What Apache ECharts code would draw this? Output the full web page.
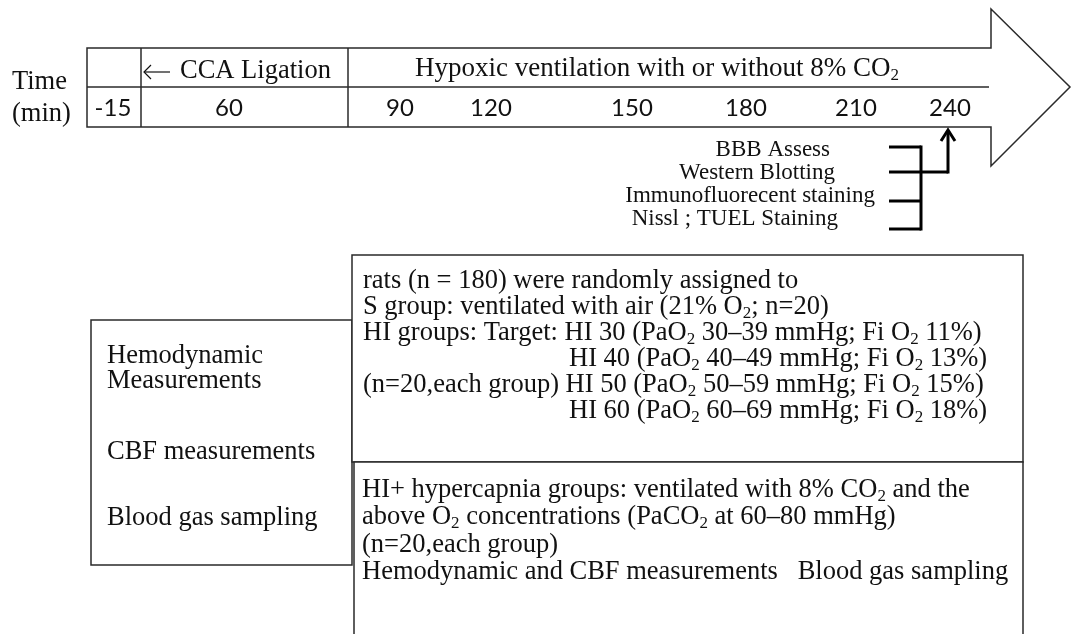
<!DOCTYPE html>
<html>
<head>
<meta charset="utf-8">
<script src="https://cdn.jsdelivr.net/npm/echarts@6/dist/echarts.min.js"></script>
<style>
  html, body { margin: 0; background: #fff; }
  #main { width: 1073px; height: 634px; }
</style>
</head>
<body>
<div id="main"></div>
<script>
// timeline content
var timeTicks = ['-15', '60', '90', '120', '150', '180', '210', '240'];
var phaseLabels = ['CCA Ligation', 'Hypoxic ventilation with or without 8% CO{s|2}'];
var axisTitle = ['Time', '(min)'];
var assays = ['BBB Assess', 'Western Blotting', 'Immunofluorecent staining', 'Nissl ; TUEL Staining'];

// boxes
var measureItems = ['Hemodynamic', 'Measurements', 'CBF measurements', 'Blood gas sampling'];
var introLines = [
  'rats (n = 180) were randomly assigned to',
  'S group: ventilated with air (21% O{s|2}; n=20)'
];
var hiPrefix = ['HI groups: Target:', '', '(n=20,each group)', ''];
var hiGroups = [
  'HI 30 (PaO{s|2} 30–39 mmHg; Fi O{s|2} 11%)',
  'HI 40 (PaO{s|2} 40–49 mmHg; Fi O{s|2} 13%)',
  'HI 50 (PaO{s|2} 50–59 mmHg; Fi O{s|2} 15%)',
  'HI 60 (PaO{s|2} 60–69 mmHg; Fi O{s|2} 18%)'
];
var hyperLines = [
  'HI+ hypercapnia groups: ventilated with 8% CO{s|2} and the',
  'above O{s|2} concentrations (PaCO{s|2} at 60–80 mmHg)',
  '(n=20,each group)',
  'Hemodynamic and CBF measurements   Blood gas sampling'
];

// layout
var tickPos = [113, 229, 400, 491, 632, 746, 856, 950];
var serif = '"Liberation Serif", "Times New Roman", serif';
var sans = 'Lato, "Open Sans", sans-serif';
var ink = '#111';
var edge = '#2a2a2a';

var rich = {
  s: { fontSize: 17, fontFamily: serif, padding: [13, 0, 0, 0], fill: ink }
};

function txt(str, x, y, opt) {
  opt = opt || {};
  return {
    type: 'text', x: x, y: y, silent: true,
    style: {
      text: str, fill: ink,
      font: (opt.size || 26.5) + 'px ' + (opt.family || serif),
      align: opt.align || 'left', verticalAlign: 'middle',
      rich: rich
    }
  };
}
function line(x1, y1, x2, y2, w, c) {
  return {
    type: 'line', silent: true,
    shape: { x1: x1, y1: y1, x2: x2, y2: y2 },
    style: { stroke: c || edge, lineWidth: w || 1.5 }
  };
}
function poly(pts, w, c) {
  return {
    type: 'polyline', silent: true,
    shape: { points: pts },
    style: { stroke: c || edge, lineWidth: w || 1.5, fill: null }
  };
}
function box(x, y, w, h) {
  return {
    type: 'rect', silent: true,
    shape: { x: x, y: y, width: w, height: h },
    style: { fill: '#fff', stroke: edge, lineWidth: 1.5 }
  };
}

var g = [];

// big arrow
g.push({
  type: 'polygon', silent: true,
  shape: { points: [[87, 48], [991, 48], [991, 9], [1070, 87], [991, 166], [991, 127], [87, 127]] },
  style: { fill: '#fff', stroke: edge, lineWidth: 1.5 }
});
g.push(line(87, 87, 989, 87));
g.push(line(141, 48, 141, 127));
g.push(line(348, 48, 348, 127));

g.push(txt(axisTitle[0], 12, 82));
g.push(txt(axisTitle[1], 12, 114));

timeTicks.forEach(function (t, i) {
  g.push(txt(t, tickPos[i], 108, { size: 24, family: sans, align: 'center' }));
});
// ligation arrow
g.push(line(144, 72, 170, 72, 1.2, ink));
g.push(poly([[151, 65], [144, 72], [151, 79]], 1.2, ink));
g.push(txt(phaseLabels[0], 180, 71));
g.push(txt(phaseLabels[1], 415, 69, { size: 27 }));

// assays with bracket
var assayRight = [830, 835, 875, 838];
var assayY = [150, 173, 196, 219];
assays.forEach(function (a, i) {
  g.push(txt(a, assayRight[i], assayY[i], { size: 23, align: 'right' }));
});
[147, 172, 201, 229].forEach(function (y) { g.push(line(889, y, 921, y, 3, '#000')); });
g.push(line(921, 145.5, 921, 230.5, 3, '#000'));
g.push(line(921, 172, 948, 172, 3, '#000'));
g.push(line(948, 173.5, 948, 132, 3, '#000'));
g.push(poly([[941, 141], [948, 130], [955, 141]], 3, '#000'));

// lower boxes
g.push(box(91, 320, 261, 245));
g.push(box(352, 255, 671, 207));
g.push(box(354, 462, 669, 190));

var measureY = [356, 381, 452, 518];
measureItems.forEach(function (m, i) {
  g.push(txt(m, 107, measureY[i]));
});
var rowY = [281, 307, 333, 359, 385, 411];
introLines.forEach(function (p, i) {
  g.push(txt(p, 363, rowY[i]));
});
hiGroups.forEach(function (h, i) {
  if (hiPrefix[i]) g.push(txt(hiPrefix[i] + ' ' + h, 363, rowY[i + 2]));
  else g.push(txt(h, 569, rowY[i + 2]));
});
hyperLines.forEach(function (h, i) {
  g.push(txt(h, 362, 490 + i * 27.5));
});

var chart = echarts.init(document.getElementById('main'), null, { renderer: 'canvas' });
chart.setOption({
  backgroundColor: '#fff',
  animation: false,
  graphic: { elements: g }
});
</script>
</body>
</html>
